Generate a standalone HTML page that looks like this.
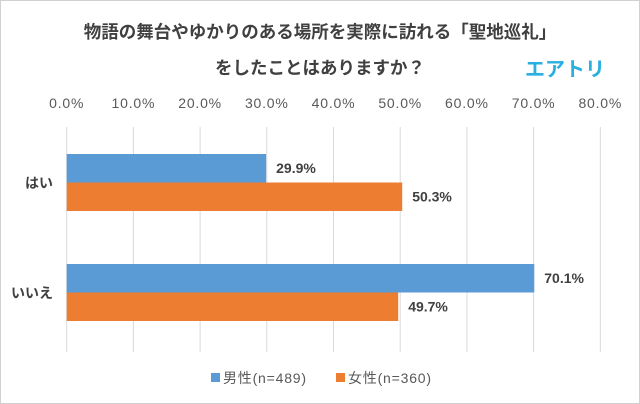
<!DOCTYPE html>
<html><head><meta charset="utf-8">
<style>
body{margin:0;background:#fff;}
svg{display:block;font-family:"Liberation Sans","Noto Sans CJK JP",sans-serif;}
</style></head>
<body>
<svg id="chart" width="640" height="404" viewBox="0 0 640 404">
<rect x="0.5" y="0.5" width="639" height="403" fill="#fff" stroke="#d0d0d0"/>
<text x="320" y="38" text-anchor="middle" font-size="17.5" font-weight="bold" fill="#404040">物語の舞台やゆかりのある場所を実際に訪れる「聖地巡礼」</text>
<text x="320" y="74" text-anchor="middle" font-size="17.5" font-weight="bold" fill="#404040">をしたことはありますか？</text>
<text x="565" y="76" text-anchor="middle" font-size="20" font-weight="bold" fill="#2ab0e0">エアトリ</text>
<g id="grid"></g>
<g id="bars"></g>
<g>
<rect x="211" y="373" width="9" height="9" fill="#5b9bd5"/>
<text x="223" y="383" font-size="14" letter-spacing="0.8" fill="#595959">男性(n=489)</text>
<rect x="336" y="373" width="9" height="9" fill="#ed7d31"/>
<text x="348" y="383" font-size="14" letter-spacing="0.8" fill="#595959">女性(n=360)</text>
</g>
</svg>
<script>
const categories=["はい","いいえ"];
const maleValues=[29.9,70.1];
const femaleValues=[50.3,49.7];
const tickValues=[0,10,20,30,40,50,60,70,80];
const ns="http://www.w3.org/2000/svg";
const x0=66.7,pxPer=6.67;
function xs(v){return x0+v*pxPer;}
const catTop=[154,264];
const grid=document.getElementById('grid'),bars=document.getElementById('bars');
function mk(tag,attrs,parent){const e=document.createElementNS(ns,tag);for(const k in attrs)e.setAttribute(k,attrs[k]);parent.appendChild(e);return e;}
tickValues.forEach(t=>{
  const l=mk('line',{x1:xs(t),x2:xs(t),y1:127,y2:352,stroke:'#d9d9d9','stroke-width':1},grid);
  
  
  const tx=mk('text',{x:xs(t),y:108,'text-anchor':'middle','font-size':14,'letter-spacing':0.8,fill:'#595959'},grid);
  tx.textContent=t.toFixed(1)+'%';
  
  
});
categories.forEach((c,i)=>{
  const y=catTop[i];
  const cl=mk('text',{x:53,y:y+34,'text-anchor':'end','font-size':14,'font-weight':'bold',fill:'#404040'},bars);
  cl.textContent=c;
  
  
  [[maleValues[i],'#5b9bd5',0,'male'],[femaleValues[i],'#ed7d31',28.5,'female']].forEach(([v,col,dy,s])=>{
    const r=mk('rect',{x:x0,y:y+dy,width:xs(v)-x0,height:28.5,fill:col},bars);
    
    
    const t=mk('text',{x:xs(v)+10,y:y+dy+19,'font-size':14,'font-weight':'bold',fill:'#404040'},bars);
    t.textContent=v.toFixed(1)+'%';
    
    
  });
});
</script>
</body></html>
